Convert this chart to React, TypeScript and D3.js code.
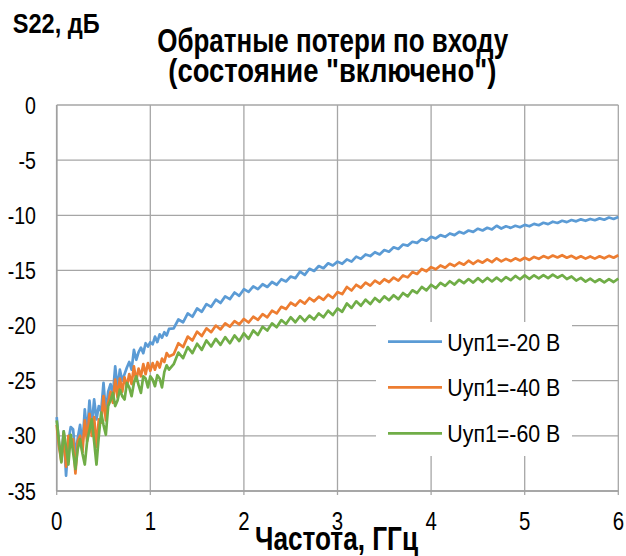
import React, { useEffect, useRef } from 'react';
import * as d3 from 'd3';

// frequency grid, GHz: 0.025 step up to 1.2, then 0.05 step up to 6
const fineFreq = d3.range(0, 49).map((i) => i * 0.025);
const coarseFreq = d3.range(1, 97).map((i) => 1.2 + i * 0.05);
const freq = [...fineFreq, ...coarseFreq];

const seriesNames = ['Uуп1=-20 В', 'Uуп1=-40 В', 'Uуп1=-60 В'];
const seriesColors = ['#5b9bd5', '#ed7d31', '#70ad47'];

const s22_20V = [
  -28.3, -30.8, -31.8, -29.6, -33.6, -30.5, -29.2, -29.4, -31.8, -30.2,
  -29.0, -30.9, -27.6, -29.8, -26.8, -29.1, -26.7, -28.5, -27.3, -27.8,
  -25.2, -27.9, -26.0, -25.3, -26.3, -23.7, -25.7, -24.0, -25.0, -24.4,
  -23.8, -23.3, -24.0, -22.2, -23.1, -22.4, -22.0, -22.5, -21.6, -21.9,
  -21.5, -21.7, -21.0, -21.5, -20.8, -21.1, -20.6, -20.9, -20.3,
  -20.25, -19.45, -19.7, -18.9, -19.2, -18.45, -18.75, -18.05, -18.3, -17.65,
  -17.95, -17.35, -17.6, -17.0, -17.3, -16.7, -16.95, -16.45, -16.7, -16.25,
  -16.5, -16.05, -16.3, -15.8, -16.0, -15.55, -15.7, -15.1, -15.4, -14.85,
  -15.05, -14.6, -14.8, -14.35, -14.55, -14.2, -14.4, -14.0, -14.2, -13.75,
  -13.95, -13.55, -13.7, -13.35, -13.55, -13.15, -13.3, -12.9, -13.05, -12.65,
  -12.75, -12.4, -12.5, -12.15, -12.3, -11.95, -12.1, -11.8, -11.95, -11.65,
  -11.8, -11.5, -11.65, -11.38, -11.5, -11.22, -11.38, -11.13, -11.28, -10.95,
  -11.2, -11.0, -11.14, -10.95, -11.08, -10.87, -11.0, -10.78, -10.9, -10.68,
  -10.8, -10.58, -10.7, -10.5, -10.62, -10.43, -10.55, -10.37, -10.5, -10.33,
  -10.45, -10.28, -10.4, -10.2, -10.33, -10.15,
];

const s22_40V = [
  -29.0, -31.0, -32.3, -29.8, -32.8, -30.0, -30.6, -30.3, -33.4, -30.5,
  -30.0, -31.5, -28.6, -30.5, -28.0, -30.0, -28.3, -31.0, -28.5, -28.8,
  -26.4, -28.6, -27.0, -26.0, -27.0, -24.9, -26.5, -24.8, -26.0, -24.7,
  -25.5, -24.4, -25.3, -23.7, -25.0, -23.9, -24.6, -23.5, -24.4, -23.4,
  -24.1, -23.4, -24.0, -23.3, -23.8, -23.0, -23.3, -22.5, -22.8,
  -22.6, -21.6, -21.95, -21.0, -21.35, -20.55, -20.95, -20.25, -20.6, -20.0,
  -20.35, -19.8, -20.1, -19.6, -19.9, -19.4, -19.72, -19.2, -19.48, -18.97,
  -19.25, -18.65, -18.9, -18.3, -18.5, -17.93, -18.2, -17.72, -18.0, -17.5,
  -17.8, -17.38, -17.67, -17.2, -17.5, -16.96, -17.15, -16.5, -16.82, -16.3,
  -16.57, -16.1, -16.38, -15.93, -16.2, -15.8, -16.05, -15.65, -15.92, -15.45,
  -15.63, -15.15, -15.32, -14.87, -15.08, -14.7, -14.9, -14.55, -14.75, -14.4,
  -14.6, -14.28, -14.48, -14.12, -14.4, -14.1, -14.3, -14.0, -14.25, -13.9,
  -14.18, -13.95, -14.15, -13.9, -14.1, -13.85, -14.05, -13.78, -13.95, -13.7,
  -13.88, -13.65, -13.82, -13.62, -13.85, -13.68, -13.92, -13.72, -13.93, -13.73,
  -13.93, -13.72, -13.9, -13.68, -13.85, -13.62,
];

const s22_60V = [
  -28.6, -30.5, -32.4, -29.6, -31.0, -32.6, -29.9, -31.5, -33.0, -31.2,
  -30.3, -31.6, -32.6, -30.5, -29.5, -28.5, -30.5, -32.6, -30.0, -27.9,
  -29.0, -29.9, -27.3, -26.8, -26.1, -27.3, -26.8, -25.8, -26.4, -26.7,
  -25.2, -25.6, -26.4, -25.2, -24.6, -25.4, -26.1, -24.6, -24.8, -25.6,
  -24.6, -24.9, -25.5, -24.5, -24.8, -25.6, -24.2, -23.6, -24.0,
  -23.5, -22.45, -22.95, -21.95, -22.5, -21.65, -22.2, -21.35, -21.9, -21.2,
  -21.75, -21.05, -21.6, -20.9, -21.4, -20.7, -21.2, -20.45, -20.85, -20.1,
  -20.45, -19.8, -20.15, -19.5, -19.85, -19.25, -19.7, -19.15, -19.6, -19.1,
  -19.45, -18.9, -19.25, -18.65, -19.05, -18.45, -18.75, -18.0, -18.4, -17.8,
  -18.2, -17.65, -18.05, -17.5, -17.85, -17.35, -17.7, -17.25, -17.6, -17.05,
  -17.35, -16.8, -17.05, -16.5, -16.8, -16.3, -16.6, -16.12, -16.4, -15.98,
  -16.28, -15.85, -16.15, -15.78, -16.1, -15.7, -16.05, -15.68, -16.0, -15.65,
  -15.98, -15.6, -15.88, -15.5, -15.8, -15.45, -15.76, -15.44, -15.72, -15.42,
  -15.7, -15.38, -15.66, -15.42, -15.78, -15.55, -15.92, -15.68, -16.02, -15.75,
  -16.05, -15.8, -16.08, -15.78, -16.05, -15.75,
];

const xTicks = [0, 1, 2, 3, 4, 5, 6];
const yTicks = [0, -5, -10, -15, -20, -25, -30, -35];

const FONT = "'Liberation Sans', Arial, sans-serif";

function App() {
  const svgRef = useRef<SVGSVGElement>(null);

  useEffect(() => {
    const svg = d3.select(svgRef.current);
    svg.selectAll('*').remove();

    const x = d3.scaleLinear().domain([0, 6]).range([56.7, 618.3]);
    const y = d3.scaleLinear().domain([0, -35]).range([105, 491]);

    // gridlines
    svg
      .append('g')
      .selectAll('line')
      .data(yTicks)
      .enter()
      .append('line')
      .attr('x1', x(0))
      .attr('x2', x(6))
      .attr('y1', (d) => y(d))
      .attr('y2', (d) => y(d))
      .attr('stroke', '#a6a6a6')
      .attr('stroke-width', 1.3);

    svg
      .append('g')
      .selectAll('line')
      .data(xTicks)
      .enter()
      .append('line')
      .attr('x1', (d) => x(d))
      .attr('x2', (d) => x(d))
      .attr('y1', y(0))
      .attr('y2', y(-35) + 4)
      .attr('stroke', '#a6a6a6')
      .attr('stroke-width', 1.3);

    // axis lines
    svg.append('line').attr('x1', x(0)).attr('x2', x(6)).attr('y1', y(-35)).attr('y2', y(-35))
      .attr('stroke', '#a0a0a0').attr('stroke-width', 1.6);
    svg.append('line').attr('x1', x(0)).attr('x2', x(0)).attr('y1', y(0)).attr('y2', y(-35))
      .attr('stroke', '#a0a0a0').attr('stroke-width', 1.6);

    // tick labels (condensed)
    svg
      .append('g')
      .selectAll('g')
      .data(yTicks)
      .enter()
      .append('g')
      .attr('transform', (d) => `translate(36,${y(d) + 8.5}) scale(0.8,1)`)
      .append('text')
      .attr('text-anchor', 'end')
      .attr('font-family', FONT)
      .attr('font-size', 24.5)
      .attr('fill', '#000')
      .text((d) => d);

    svg
      .append('g')
      .selectAll('g')
      .data(xTicks)
      .enter()
      .append('g')
      .attr('transform', (d) => `translate(${x(d)},529.5) scale(0.8,1)`)
      .append('text')
      .attr('text-anchor', 'middle')
      .attr('font-family', FONT)
      .attr('font-size', 25.5)
      .attr('fill', '#000')
      .text((d) => d);

    // series
    const allSeries = [s22_20V, s22_40V, s22_60V];
    const line = d3
      .line<number>()
      .x((_, i) => x(freq[i]))
      .y((d) => y(d));

    allSeries.forEach((vals, k) => {
      svg
        .append('path')
        .datum(vals)
        .attr('d', line)
        .attr('fill', 'none')
        .attr('stroke', seriesColors[k])
        .attr('stroke-width', 2.7)
        .attr('stroke-linejoin', 'round');
    });

    // legend
    const legend = svg.append('g');
    legend.append('rect').attr('x', 376).attr('y', 322).attr('width', 196).attr('height', 134).attr('fill', '#fff');
    const legendY = [341.7, 387.3, 433.3];
    seriesNames.forEach((name, k) => {
      legend.append('line').attr('x1', 388).attr('x2', 442)
        .attr('y1', legendY[k]).attr('y2', legendY[k])
        .attr('stroke', seriesColors[k]).attr('stroke-width', 2.7);
      legend.append('text').attr('x', 447.3).attr('y', legendY[k] + 8.8)
        .attr('font-family', FONT).attr('font-size', 24.5)
        .attr('textLength', 113).attr('lengthAdjust', 'spacingAndGlyphs')
        .text(name);
    });

    // titles
    svg.append('text').attr('x', 12.7).attr('y', 32.7)
      .attr('font-family', FONT).attr('font-weight', 'bold').attr('font-size', 27.5)
      .attr('textLength', 87).attr('lengthAdjust', 'spacingAndGlyphs')
      .text('S22, дБ');

    svg.append('text').attr('x', 157.3).attr('y', 51.5)
      .attr('font-family', FONT).attr('font-weight', 'bold').attr('font-size', 32.5)
      .attr('textLength', 351).attr('lengthAdjust', 'spacingAndGlyphs')
      .text('Обратные потери по входу');

    svg.append('text').attr('x', 168.3).attr('y', 81.5)
      .attr('font-family', FONT).attr('font-weight', 'bold').attr('font-size', 32.5)
      .attr('textLength', 328).attr('lengthAdjust', 'spacingAndGlyphs')
      .text('(состояние "включено")');

    svg.append('text').attr('x', 255).attr('y', 550)
      .attr('font-family', FONT).attr('font-weight', 'bold').attr('font-size', 33)
      .attr('textLength', 163).attr('lengthAdjust', 'spacingAndGlyphs')
      .text('Частота, ГГц');
  }, []);

  return (
    <svg
      ref={svgRef}
      width={626}
      height={556}
      style={{ position: 'absolute', left: 0, top: 0, background: '#fff' }}
    ></svg>
  );
}

export default App;
